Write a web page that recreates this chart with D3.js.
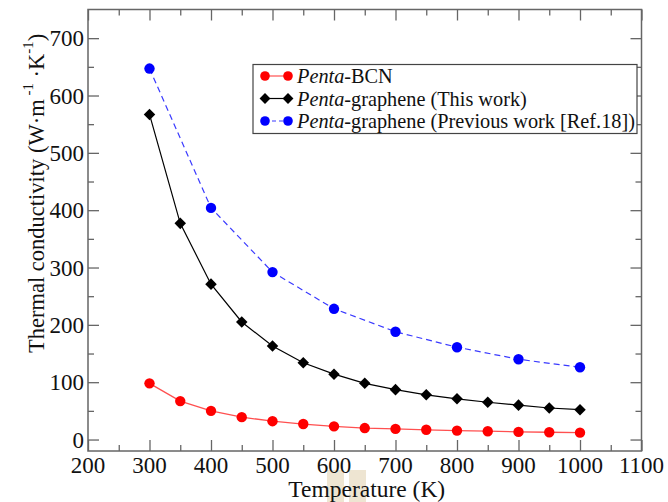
<!DOCTYPE html>
<html><head><meta charset="utf-8">
<script src="https://cdn.jsdelivr.net/npm/d3@7/dist/d3.min.js"></script>
<style>body{margin:0;background:#fff}svg{display:block}text{font-family:"Liberation Serif","Times New Roman",serif}</style>
</head><body><svg id="c" width="668" height="502"></svg>
<script>
const temps = [300,350,400,450,500,550,600,650,700,750,800,850,900,950,1000];
const bcn = [98,67,50,39,32,27,23,20,18.5,17,15.6,14.5,13.3,12.7,12];
const pgThis = [567,377,271,205,163,134,114,98,87,78,71,65,60,55,52];
const prevTemps = [300,400,500,600,700,800,900,1000];
const pgPrev = [647,404,292,228,188,161,140,126];
const xTicks = [200,300,400,500,600,700,800,900,1000,1100];
const yTicks = [0,100,200,300,400,500,600,700];

const svg = d3.select("#c");
const L=88, R=641.5, T=9.5, B=451;
const x = d3.scaleLinear().domain([200,1100]).range([L,R]);
const y = d3.scaleLinear().domain([-20,750]).range([B,T]);
const frame="#666";

// artifact highlight rectangles
svg.append("rect").attr("x",327).attr("y",470).attr("width",17).attr("height",32).attr("fill","#eee5d2");
svg.append("rect").attr("x",349).attr("y",470).attr("width",17).attr("height",32).attr("fill","#eee5d2");

// axes with inward ticks
const g = svg.append("g");
const minorX = d3.range(250,1100,100), minorY = d3.range(50,750,100);
function ax(axis, tr){ const a = g.append("g").attr("transform",tr).call(axis); a.select(".domain").remove(); a.selectAll("line").attr("stroke",frame).attr("stroke-width",1.3); return a; }
ax(d3.axisBottom(x).tickValues(xTicks).tickSize(-11).tickFormat(""), `translate(0,${B})`);
ax(d3.axisBottom(x).tickValues(minorX).tickSize(-6).tickFormat(""), `translate(0,${B})`);
ax(d3.axisTop(x).tickValues(xTicks).tickSize(-11).tickFormat(""), `translate(0,${T})`);
ax(d3.axisTop(x).tickValues(minorX).tickSize(-6).tickFormat(""), `translate(0,${T})`);
ax(d3.axisLeft(y).tickValues(yTicks).tickSize(-11).tickFormat(""), `translate(${L},0)`);
ax(d3.axisLeft(y).tickValues(minorY).tickSize(-6).tickFormat(""), `translate(${L},0)`);
ax(d3.axisRight(y).tickValues(yTicks).tickSize(-11).tickFormat(""), `translate(${R},0)`);
ax(d3.axisRight(y).tickValues(minorY).tickSize(-6).tickFormat(""), `translate(${R},0)`);
g.append("rect").attr("x",L).attr("y",T).attr("width",R-L).attr("height",B-T).attr("fill","none").attr("stroke",frame).attr("stroke-width",1.5);

// tick labels
g.selectAll(".xl").data(xTicks).enter().append("text").attr("x",d=>x(d)).attr("y",473).attr("text-anchor","middle").attr("font-size",23).attr("fill","#111").text(d=>d);
g.selectAll(".yl").data(yTicks).enter().append("text").attr("x",L-4).attr("y",d=>y(d)+8).attr("text-anchor","end").attr("font-size",23).attr("fill","#111").text(d=>d);

// axis titles
svg.append("text").attr("x",(L+R)/2+2).attr("y",497).attr("text-anchor","middle").attr("font-size",23.5).attr("fill","#111").text("Temperature (K)");
const yt = svg.append("text").attr("transform","translate(44,353) rotate(-90)").attr("font-size",22.5).attr("fill","#111");
yt.append("tspan").text("Thermal conductivity (W·m");
yt.append("tspan").attr("dy",-11).attr("font-size",15).text(" -1");
yt.append("tspan").attr("dy",11).text(" ·K");
yt.append("tspan").attr("dy",-11).attr("font-size",15).text("-1");
yt.append("tspan").attr("dy",11).text(")");

// series
const line = d3.line().x(d=>x(d[0])).y(d=>y(d[1]));
const sBcn = temps.map((t,i)=>[t,bcn[i]]);
const sThis = temps.map((t,i)=>[t,pgThis[i]]);
const sPrev = prevTemps.map((t,i)=>[t,pgPrev[i]]);
const plot = svg.append("g");
plot.append("path").datum(sPrev).attr("d",line).attr("fill","none").attr("stroke","#3a3aff").attr("stroke-width",1.2).attr("stroke-dasharray","6,4");
plot.append("path").datum(sThis).attr("d",line).attr("fill","none").attr("stroke","#000").attr("stroke-width",1.2);
plot.append("path").datum(sBcn).attr("d",line).attr("fill","none").attr("stroke","#ff5050").attr("stroke-width",1.3);
plot.selectAll(".pb").data(sPrev).enter().append("circle").attr("cx",d=>x(d[0])).attr("cy",d=>y(d[1])).attr("r",5.2).attr("fill","#0000ff");
const dia = d3.symbol().type(d3.symbolDiamond2).size(85);
plot.selectAll(".pk").data(sThis).enter().append("path").attr("d",dia).attr("transform",d=>`translate(${x(d[0])},${y(d[1])})`).attr("fill","#000");
plot.selectAll(".pr").data(sBcn).enter().append("circle").attr("cx",d=>x(d[0])).attr("cy",d=>y(d[1])).attr("r",5.2).attr("fill","#ff0000");

// legend
const lg = svg.append("g");
lg.append("rect").attr("x",253).attr("y",64.5).attr("width",384).attr("height",69).attr("fill","#fff").attr("stroke","#444").attr("stroke-width",1.2);
const items = [
 {n:"BCN", c:"#ff0000", lc:"#ff5050", dash:null, m:"c"},
 {n:"graphene (This work)", c:"#000", lc:"#000", dash:null, m:"d"},
 {n:"graphene (Previous work [Ref.18])", c:"#0000ff", lc:"#3a3aff", dash:"4,3", m:"c"}
];
items.forEach((it,i)=>{
  const cy = 76 + i*22.5;
  lg.append("line").attr("x1",265).attr("x2",288).attr("y1",cy).attr("y2",cy).attr("stroke",it.lc).attr("stroke-width",1.2).attr("stroke-dasharray",it.dash);
  [265,288].forEach(px=>{
    if(it.m==="c") lg.append("circle").attr("cx",px).attr("cy",cy).attr("r",4.8).attr("fill",it.c);
    else lg.append("path").attr("d",d3.symbol().type(d3.symbolDiamond2).size(75)).attr("transform",`translate(${px},${cy})`).attr("fill",it.c);
  });
  const t = lg.append("text").attr("x",297).attr("y",cy+7).attr("font-size",20.3).attr("fill","#111");
  t.append("tspan").attr("font-style","italic").text("Penta");
  t.append("tspan").text("-"+it.n);
});
</script></body></html>
